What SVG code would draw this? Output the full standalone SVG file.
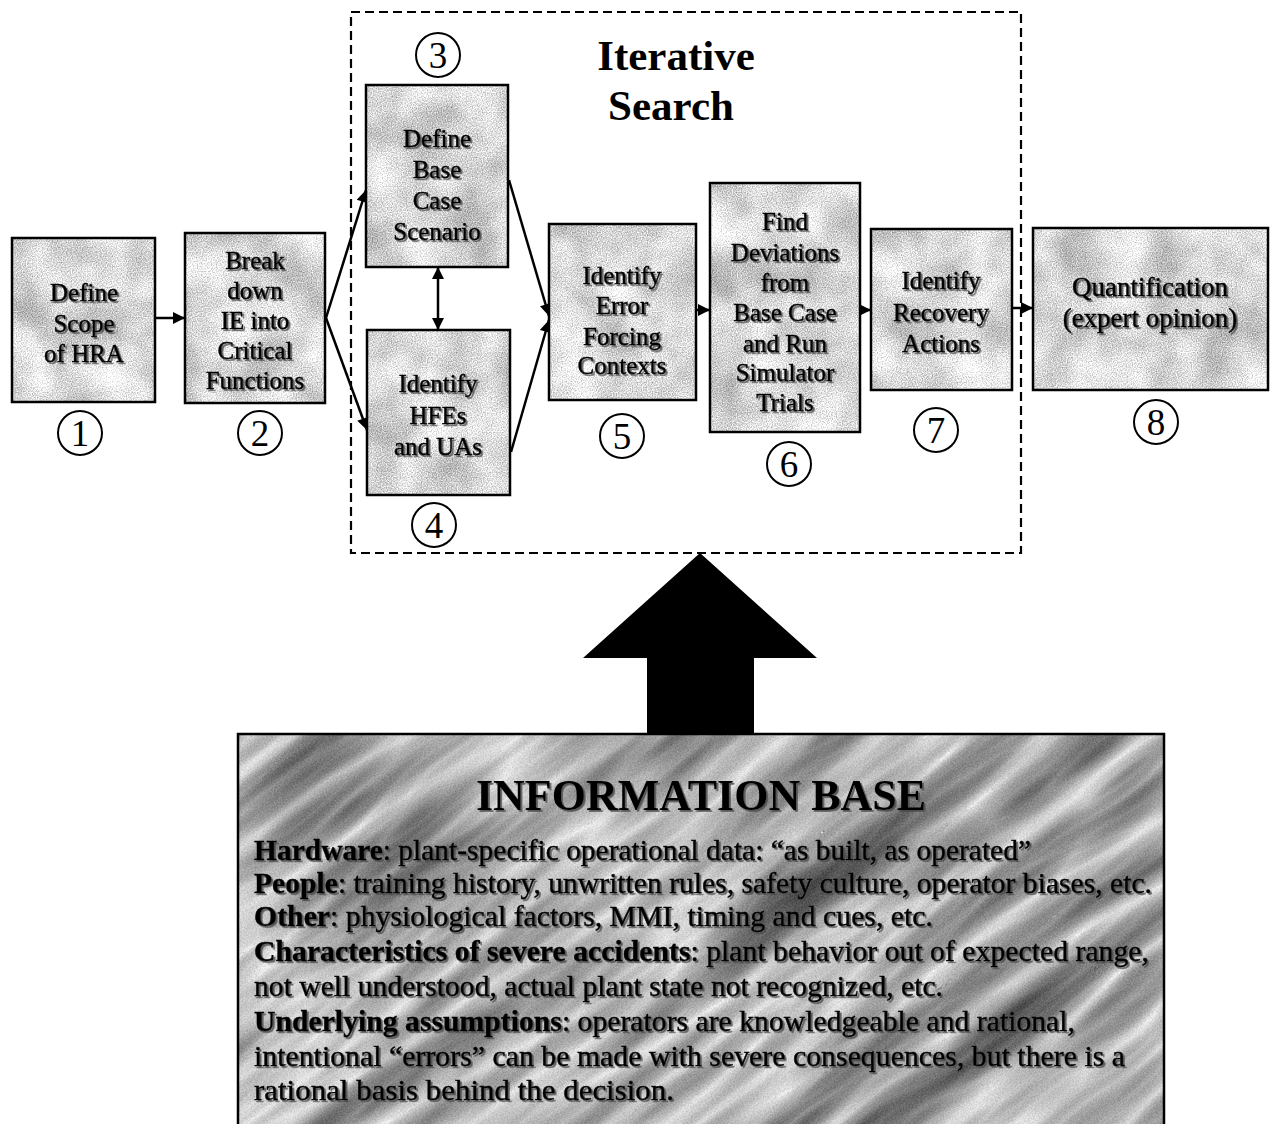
<svg xmlns="http://www.w3.org/2000/svg" width="1276" height="1124" viewBox="0 0 1276 1124">
  <defs>
    <style>
      .box { stroke: #000; stroke-width: 2.5; fill: url(#grain); }
      .lbl { font-family: "Liberation Serif", "Times New Roman", serif; font-size: 25px; fill: #000; stroke: #000; stroke-width: 0.4; text-anchor: middle; filter: url(#shadow); }
      .num { font-family: "Liberation Serif", "Times New Roman", serif; font-size: 37px; fill: #000; text-anchor: middle; }
      .ring { fill: #fff; stroke: #000; stroke-width: 2; }
      .title { font-family: "Liberation Serif", "Times New Roman", serif; font-size: 43px; font-weight: bold; fill: #000; text-anchor: middle; }
      .conn { stroke: #000; stroke-width: 2.5; fill: none; }
      .info { font-family: "Liberation Serif", "Times New Roman", serif; font-size: 29px; fill: #000; stroke: #000; stroke-width: 0.4; filter: url(#shadow); }
      .b { font-weight: bold; }
    </style>
    <!-- light speckled grey used inside the step boxes -->
    <filter id="speckle" x="0" y="0" width="1" height="1" color-interpolation-filters="sRGB">
      <feTurbulence type="fractalNoise" baseFrequency="0.02" numOctaves="3" seed="4" result="n1"/>
      <feColorMatrix in="n1" type="matrix" values="1 0 0 0 0  1 0 0 0 0  1 0 0 0 0  0 0 0 0 1" result="g1"/>
      <feTurbulence type="fractalNoise" baseFrequency="0.8" numOctaves="1" seed="9" result="n2"/>
      <feColorMatrix in="n2" type="matrix" values="1 0 0 0 0  1 0 0 0 0  1 0 0 0 0  0 0 0 0 1" result="g2"/>
      <feComposite in="g1" in2="g2" operator="arithmetic" k1="0" k2="0.45" k3="0.7" k4="0.27"/>
    </filter>
    <!-- mid grey with pale marbled streaks for the information base panel -->
    <filter id="marble" x="0" y="0" width="1" height="1" color-interpolation-filters="sRGB">
      <feTurbulence type="turbulence" baseFrequency="0.003 0.018" numOctaves="3" seed="11" result="t"/>
      <feColorMatrix in="t" type="matrix" values="-1 0 0 0 1  -1 0 0 0 1  -1 0 0 0 1  0 0 0 0 1" result="ti"/>
      <feTurbulence type="fractalNoise" baseFrequency="0.8" numOctaves="1" seed="2" result="f"/>
      <feColorMatrix in="f" type="matrix" values="1 0 0 0 0  1 0 0 0 0  1 0 0 0 0  0 0 0 0 1" result="fg"/>
      <feComposite in="ti" in2="fg" operator="arithmetic" k1="0" k2="0.8" k3="0.4" k4="-0.08"/>
    </filter>
    <pattern id="grain" patternUnits="userSpaceOnUse" x="0" y="0" width="1276" height="600">
      <rect width="1276" height="600" filter="url(#speckle)"/>
    </pattern>
    <pattern id="marbleTex" patternUnits="userSpaceOnUse" x="0" y="0" width="1800" height="1800" patternTransform="rotate(-38 700 930)">
      <rect width="1800" height="1800" filter="url(#marble)"/>
    </pattern>
    <filter id="shadow" x="-10%" y="-20%" width="120%" height="150%">
      <feDropShadow dx="1.8" dy="1.8" stdDeviation="0.7" flood-color="#4a4a4a" flood-opacity="0.85"/>
    </filter>
    <marker id="ah" viewBox="0 0 10 10" refX="10" refY="5" markerWidth="14" markerHeight="12" markerUnits="userSpaceOnUse" orient="auto-start-reverse">
      <path d="M0,0 L10,5 L0,10 z" fill="#000"/>
    </marker>
  </defs>

  <rect width="1276" height="1124" fill="#fff"/>

  <!-- iterative search frame -->
  <g id="iterative-search">
    <rect x="351" y="12" width="670" height="541" fill="none" stroke="#000" stroke-width="2.2" stroke-dasharray="9 5"/>
    <text class="title" x="676" y="70">Iterative</text>
    <text class="title" x="671" y="120">Search</text>
  </g>

  <!-- connectors -->
  <g id="connectors">
    <line class="conn" x1="155" y1="318" x2="185" y2="318" marker-end="url(#ah)"/>
    <line class="conn" x1="326" y1="318" x2="366" y2="190" marker-end="url(#ah)"/>
    <line class="conn" x1="326" y1="318" x2="367" y2="430" marker-end="url(#ah)"/>
    <line class="conn" x1="438" y1="267" x2="438" y2="330" marker-start="url(#ah)" marker-end="url(#ah)"/>
    <line class="conn" x1="509" y1="180" x2="549" y2="316" marker-end="url(#ah)"/>
    <line class="conn" x1="511" y1="452" x2="549" y2="320" marker-end="url(#ah)"/>
    <line class="conn" x1="696" y1="310" x2="710" y2="310" marker-end="url(#ah)"/>
    <line class="conn" x1="860" y1="310" x2="871" y2="310" marker-end="url(#ah)"/>
    <line class="conn" x1="1012" y1="308" x2="1033" y2="308" marker-end="url(#ah)"/>
    <polygon id="feed-arrow" points="700,553 817,658 754,658 754,734 647,734 647,658 583,658" fill="#000"/>
  </g>

  <g id="step1">
    <rect class="box" x="12" y="238" width="143" height="164"/>
    <text class="lbl" x="84" y="301">Define</text>
    <text class="lbl" x="84" y="332">Scope</text>
    <text class="lbl" x="84" y="362">of HRA</text>
    <circle class="ring" cx="80" cy="433" r="22"/>
    <text class="num" x="80" y="446">1</text>
  </g>

  <g id="step2">
    <rect class="box" x="185" y="233" width="140" height="170"/>
    <text class="lbl" x="255" y="269">Break</text>
    <text class="lbl" x="255" y="299">down</text>
    <text class="lbl" x="255" y="329">IE into</text>
    <text class="lbl" x="255" y="359">Critical</text>
    <text class="lbl" x="255" y="389">Functions</text>
    <circle class="ring" cx="260" cy="433" r="22"/>
    <text class="num" x="260" y="446">2</text>
  </g>

  <g id="step3">
    <rect class="box" x="366" y="85" width="142" height="182"/>
    <text class="lbl" x="437" y="147">Define</text>
    <text class="lbl" x="437" y="178">Base</text>
    <text class="lbl" x="437" y="209">Case</text>
    <text class="lbl" x="437" y="240">Scenario</text>
    <circle class="ring" cx="438" cy="55" r="22"/>
    <text class="num" x="438" y="68">3</text>
  </g>

  <g id="step4">
    <rect class="box" x="367" y="330" width="143" height="165"/>
    <text class="lbl" x="438" y="392">Identify</text>
    <text class="lbl" x="438" y="424">HFEs</text>
    <text class="lbl" x="438" y="455">and UAs</text>
    <circle class="ring" cx="434" cy="525" r="22"/>
    <text class="num" x="434" y="538">4</text>
  </g>

  <g id="step5">
    <rect class="box" x="549" y="224" width="147" height="176"/>
    <text class="lbl" x="622" y="284">Identify</text>
    <text class="lbl" x="622" y="314">Error</text>
    <text class="lbl" x="622" y="345">Forcing</text>
    <text class="lbl" x="622" y="374">Contexts</text>
    <circle class="ring" cx="622" cy="436" r="22"/>
    <text class="num" x="622" y="449">5</text>
  </g>

  <g id="step6">
    <rect class="box" x="710" y="183" width="150" height="249"/>
    <text class="lbl" x="785" y="230">Find</text>
    <text class="lbl" x="785" y="261">Deviations</text>
    <text class="lbl" x="785" y="291">from</text>
    <text class="lbl" x="785" y="321">Base Case</text>
    <text class="lbl" x="785" y="352">and Run</text>
    <text class="lbl" x="785" y="381">Simulator</text>
    <text class="lbl" x="785" y="411">Trials</text>
    <circle class="ring" cx="789" cy="464" r="22"/>
    <text class="num" x="789" y="477">6</text>
  </g>

  <g id="step7">
    <rect class="box" x="871" y="229" width="141" height="161"/>
    <text class="lbl" x="941" y="289">Identify</text>
    <text class="lbl" x="941" y="321">Recovery</text>
    <text class="lbl" x="941" y="352">Actions</text>
    <circle class="ring" cx="936" cy="430" r="22"/>
    <text class="num" x="936" y="443">7</text>
  </g>

  <g id="step8">
    <rect class="box" x="1033" y="228" width="235" height="162"/>
    <text class="lbl" x="1150" y="296" style="font-size:27px">Quantification</text>
    <text class="lbl" x="1150" y="327" style="font-size:27px">(expert opinion)</text>
    <circle class="ring" cx="1156" cy="422" r="22"/>
    <text class="num" x="1156" y="435">8</text>
  </g>

  <g id="information-base">
    <rect x="238" y="734" width="926" height="392" fill="url(#marbleTex)" stroke="#000" stroke-width="2.5"/>
    <text x="701" y="810" style="font-family:'Liberation Serif','Times New Roman',serif;font-size:44px;font-weight:bold;text-anchor:middle;filter:url(#shadow)">INFORMATION BASE</text>
    <text class="info" x="254" y="860" textLength="777" lengthAdjust="spacingAndGlyphs"><tspan class="b">Hardware</tspan>: plant-specific operational data: “as built, as operated”</text>
    <text class="info" x="254" y="893" textLength="898" lengthAdjust="spacingAndGlyphs"><tspan class="b">People</tspan>: training history, unwritten rules, safety culture, operator biases, etc.</text>
    <text class="info" x="254" y="926" textLength="679" lengthAdjust="spacingAndGlyphs"><tspan class="b">Other</tspan>: physiological factors, MMI, timing and cues, etc.</text>
    <text class="info" x="254" y="961" textLength="895" lengthAdjust="spacingAndGlyphs"><tspan class="b">Characteristics of severe accidents</tspan>: plant behavior out of expected range,</text>
    <text class="info" x="254" y="996" textLength="689" lengthAdjust="spacingAndGlyphs">not well understood, actual plant state not recognized, etc.</text>
    <text class="info" x="254" y="1031" textLength="821" lengthAdjust="spacingAndGlyphs"><tspan class="b">Underlying assumptions</tspan>: operators are knowledgeable and rational,</text>
    <text class="info" x="254" y="1066" textLength="871" lengthAdjust="spacingAndGlyphs">intentional “errors” can be made with severe consequences, but there is a</text>
    <text class="info" x="254" y="1100" textLength="420" lengthAdjust="spacingAndGlyphs">rational basis behind the decision.</text>
  </g>
</svg>
